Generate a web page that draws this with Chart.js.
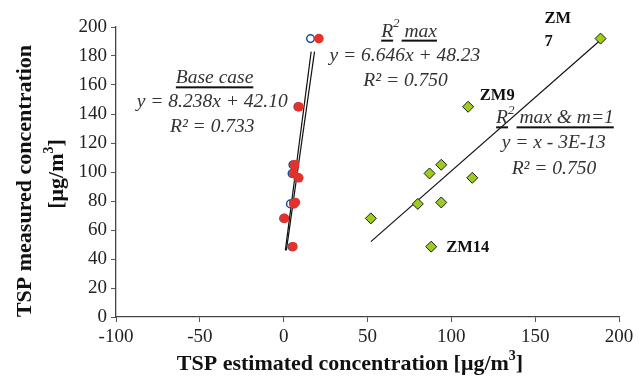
<!DOCTYPE html>
<html>
<head>
<meta charset="utf-8">
<script src="https://cdn.jsdelivr.net/npm/chart.js@4.4.0/dist/chart.umd.min.js"></script>
<style>
  html, body { margin: 0; padding: 0; background: #fff; }
  #wrap { width: 644px; height: 381px; }
</style>
</head>
<body>
<div id="wrap"><canvas id="tspChart" width="644" height="381"></canvas></div>
<script>
// measured TSP per site (same order in every series)
const measured = [192, 145, 105, 99, 96, 78, 79, 68, 48.5];
const estBase  = [16, 8.5, 5.5, 5, 8.5, 4, 6, 0, 5];          // base case, open circles
const estR2max = [21, 9, 6.5, 6, 9, 6, 7, 0.5, 5.5];          // R2 max, red dots
const estM1    = [189, 110, 94, 87, 112.5, 80, 94, 52, 88];   // R2 max & m=1, diamonds
const siteLabels = [['ZM', '7'], ['ZM9'], [], [], [], [], [], [], ['ZM14']];

// fitted lines (end points)
const baseFitX = [1, 16.4],  baseFitY = [46, 183];
const r2FitX   = [1.6, 18.4], r2FitY  = [46, 183];
const m1FitX   = [52, 189],  m1FitY   = [52, 191];

const xTicks = [-100, -50, 0, 50, 100, 150, 200];
const yTicks = [0, 20, 40, 60, 80, 100, 120, 140, 160, 180, 200];

const pts = (xs, ys) => xs.map((v, i) => ({x: v, y: ys[i]}));

const SERIF = '"Liberation Serif", "Times New Roman", serif';

// equation boxes, placed in data units
const notes = [
  {x: -41.2, y: 164.6, parts: [{t: 'Base case'}], underline: true},
  {x: -42.6, y: 148.5, parts: [{t: 'y = 8.238x + 42.10'}]},
  {x: -42.6, y: 130.8, parts: [{t: 'R² = 0.733'}]},
  {x: 74.8, y: 196.8, parts: [{t: 'R'}, {t: '2', sup: true}, {t: ' max'}], underline: true},
  {x: 72.3, y: 180.3, parts: [{t: 'y = 6.646x + 48.23'}]},
  {x: 72.7, y: 163.0, parts: [{t: 'R² = 0.750'}]},
  {x: 161.8, y: 137.0, parts: [{t: 'R'}, {t: '2', sup: true}, {t: ' max & m=1'}], underline: true},
  {x: 161.1, y: 119.8, parts: [{t: 'y = x - 3E-13'}]},
  {x: 161.2, y: 102.1, parts: [{t: 'R² = 0.750'}]}
];
// pixel offsets of each label line from its diamond
const labelOffsets = [[[-56, -20], [-56, 3.5]], [[11.7, -11.3]], null, null, null, null, null, null, [[15, 1]]];

const xTitle = [{t: 'TSP estimated concentration [μg/m'}, {t: '3', sup: true}, {t: ']'}];
const yTitle1 = [{t: 'TSP measured concentration'}];
const yTitle2 = [{t: '[μg/m'}, {t: '3', sup: true}, {t: ']'}];

function drawRuns(ctx, cx, cy, parts, o) {
  const widths = parts.map(p => {
    ctx.font = p.sup ? o.supFont : o.font;
    return ctx.measureText(p.t).width;
  });
  const total = widths.reduce((a, b) => a + b, 0);
  let px = cx - total / 2;
  ctx.textAlign = 'left';
  ctx.textBaseline = 'middle';
  parts.forEach((p, i) => {
    ctx.font = p.sup ? o.supFont : o.font;
    ctx.fillStyle = o.color;
    ctx.fillText(p.t, px, p.sup ? cy - o.rise : cy);
    if (o.underline && !p.sup) {
      ctx.fillStyle = '#111';
      ctx.fillRect(px + (i > 0 ? 2 : 0), cy + 8, widths[i] - (i > 0 ? 2 : 0), 2);
    }
    px += widths[i];
  });
}

const italic = {font: 'italic 19.5px ' + SERIF, supFont: 'italic 13px ' + SERIF, color: '#333', rise: 8};
const bold = {font: 'bold 22px ' + SERIF, supFont: 'bold 14px ' + SERIF, color: '#111', rise: 8};

const notesPlugin = {
  id: 'notes',
  afterDatasetsDraw(chart) {
    const {ctx, scales: {x, y}} = chart;
    ctx.save();
    notes.forEach(n => drawRuns(ctx, x.getPixelForValue(n.x), y.getPixelForValue(n.y), n.parts,
      Object.assign({}, italic, {underline: n.underline})));

    // site names next to their diamonds
    const meta = chart.getDatasetMeta(2);
    ctx.font = 'bold 16.5px ' + SERIF;
    ctx.fillStyle = '#111';
    ctx.textBaseline = 'middle';
    ctx.textAlign = 'left';
    siteLabels.forEach((lines, i) => {
      if (!lines.length) return;
      const el = meta.data[i];
      lines.forEach((s, k) => {
        const [dx, dy] = labelOffsets[i][k];
        ctx.fillText(s, el.x + dx, el.y + dy);
      });
    });

    // axis titles
    drawRuns(ctx, 350, 364, xTitle, bold);
    ctx.translate(25, 181);
    ctx.rotate(-Math.PI / 2);
    drawRuns(ctx, 0, 0, yTitle1, bold);
    ctx.rotate(Math.PI / 2);
    ctx.translate(32, -7);
    ctx.rotate(-Math.PI / 2);
    drawRuns(ctx, 0, 0, yTitle2, bold);
    ctx.restore();
  }
};

const axisStyle = {
  grid: {display: true, drawOnChartArea: false, tickLength: 5, color: '#555', lineWidth: 1},
  border: {display: true, color: '#444', width: 1.3},
  ticks: {font: {family: SERIF, size: 19}, color: '#222', padding: 4}
};

new Chart(document.getElementById('tspChart'), {
  type: 'scatter',
  data: {
    datasets: [
      {label: 'R2 max', data: pts(estR2max, measured), order: 1,
       pointRadius: 4.8, pointBackgroundColor: '#e3312b', pointBorderColor: '#e3312b', pointBorderWidth: 0},
      {label: 'Base case', data: pts(estBase, measured), order: 2,
       pointRadius: 3.8, pointBackgroundColor: '#fff', pointBorderColor: '#1c4c9c', pointBorderWidth: 1.5},
      {label: 'R2 max & m=1', data: pts(estM1, measured), order: 1,
       pointStyle: 'rectRot', pointRadius: 5.5, pointBackgroundColor: '#9ccc1c', pointBorderColor: '#1a1a1a', pointBorderWidth: 1},
      {label: 'fit base', data: pts(baseFitX, baseFitY), showLine: true, order: 3,
       borderColor: '#111', borderWidth: 1.2, pointRadius: 0},
      {label: 'fit r2', data: pts(r2FitX, r2FitY), showLine: true, order: 3,
       borderColor: '#111', borderWidth: 1.2, pointRadius: 0},
      {label: 'fit m1', data: pts(m1FitX, m1FitY), showLine: true, order: 3,
       borderColor: '#111', borderWidth: 1.2, pointRadius: 0}
    ]
  },
  options: {
    responsive: false,
    animation: false,
    devicePixelRatio: 1,
    clip: false,
    layout: {padding: {top: 27, right: 25, bottom: 0, left: 0}},
    plugins: {legend: {display: false}, tooltip: {enabled: false}},
    scales: {
      x: {
        ...axisStyle,
        min: -100, max: 200,
        afterBuildTicks: s => { s.ticks = xTicks.map(v => ({value: v})); },
        afterFit: s => { s.height = 64; }
      },
      y: {
        ...axisStyle,
        min: 0, max: 200,
        afterBuildTicks: s => { s.ticks = yTicks.map(v => ({value: v})); },
        afterFit: s => { s.width = 116; }
      }
    }
  },
  plugins: [notesPlugin]
});
</script>
</body>
</html>
